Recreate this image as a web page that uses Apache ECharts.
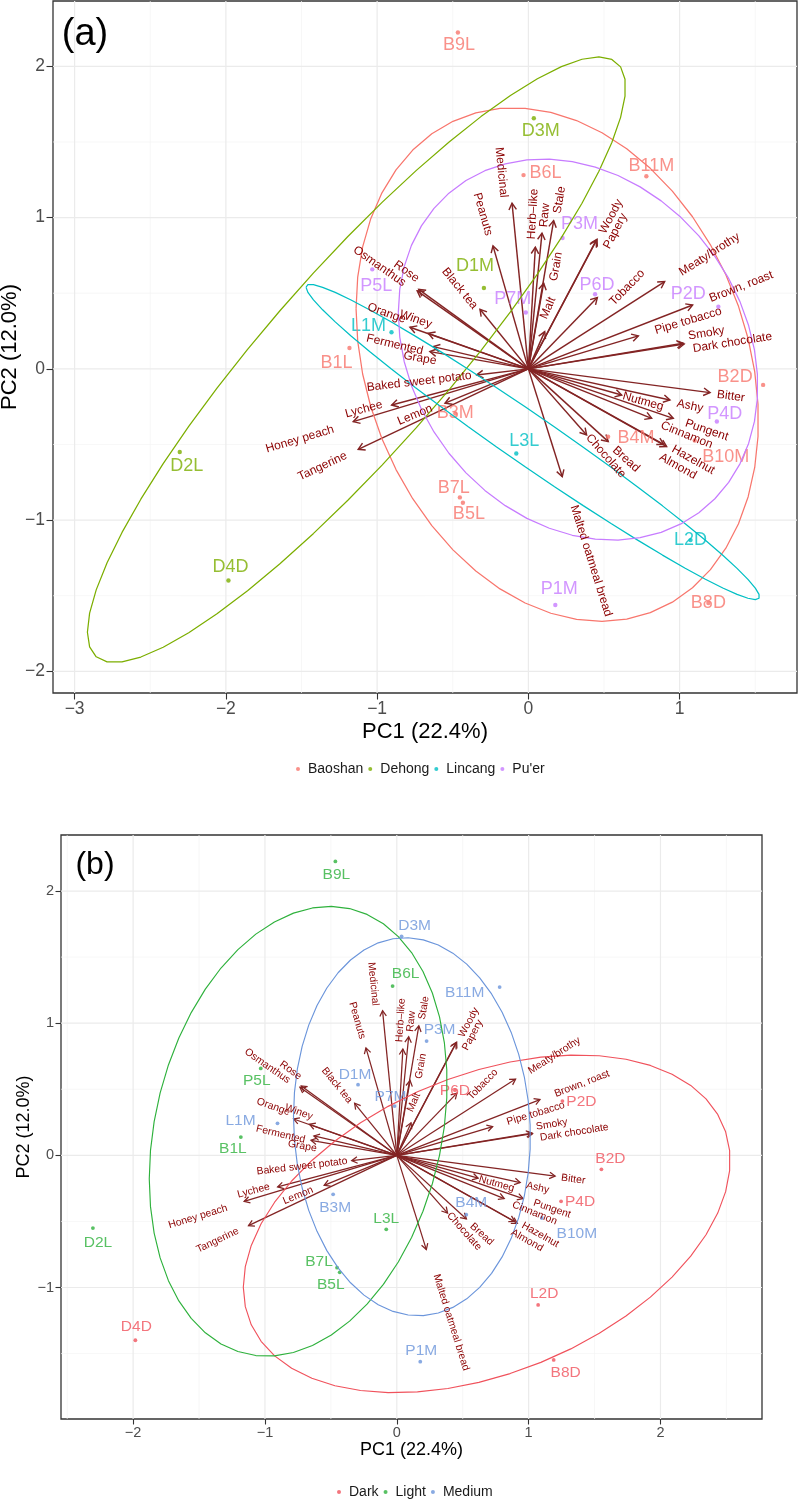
<!DOCTYPE html>
<html><head><meta charset="utf-8">
<script src="https://cdn.jsdelivr.net/npm/echarts@6/dist/echarts.min.js"></script>
<style>html,body{margin:0;padding:0;background:#fff;}#c{width:798px;height:1501px;}</style>
</head><body><div id="c"></div>
<script>
// ---------------- DATA ----------------
const samples = ['B1L','B2D','B3M','B4M','B5L','B6L','B7L','B8D','B9L','B10M','B11M','D1M','D2L','D3M','D4D','L1M','L2D','L3L','P1M','P2D','P3M','P4D','P5L','P6D','P7M'];
const pc1 = [-1.183, 1.552, -0.483, 0.527, -0.433, -0.032, -0.453, 1.190, -0.466, 1.100, 0.780, -0.294, -2.305, 0.036, -1.983, -0.905, 1.072, -0.080, 0.178, 1.256, 0.226, 1.246, -1.032, 0.441, -0.017];
const pc2 = [0.138, -0.106, -0.295, -0.449, -0.885, 1.281, -0.850, -1.548, 2.224, -0.474, 1.273, 0.535, -0.550, 1.657, -1.399, 0.242, -1.132, -0.560, -1.561, 0.411, 0.865, -0.348, 0.658, 0.493, 0.373];
const region = ['Baoshan','Baoshan','Baoshan','Baoshan','Baoshan','Baoshan','Baoshan','Baoshan','Baoshan','Baoshan','Baoshan','Dehong','Dehong','Dehong','Dehong','Lincang','Lincang','Lincang',"Pu'er","Pu'er","Pu'er","Pu'er","Pu'er","Pu'er","Pu'er"];
const roast = ['Light','Dark','Medium','Medium','Light','Light','Light','Dark','Light','Medium','Medium','Medium','Light','Medium','Dark','Medium','Dark','Light','Medium','Dark','Medium','Dark','Light','Dark','Medium'];
const regionLevels = ['Baoshan','Dehong','Lincang',"Pu'er"];
const roastLevels = ['Dark','Light','Medium'];

const vars = ['Medicinal','Peanuts','Herb\u2013like','Raw','Stale','Grain','Malt','Woody','Papery','Tobacco','Meaty/brothy','Brown, roast','Pipe tobacco','Smoky','Dark chocolate','Bitter','Nutmeg','Ashy','Pungent','Cinnamon','Hazelnut','Almond','Bread','Chocolate','Malted oatmeal bread','Lemon','Tangerine','Honey peach','Lychee','Baked sweet potato','Grape','Fermented','Orange','Winey','Black tea','Rose','Osmanthus'];
const load1 = [-0.108,-0.234,0.046,0.090,0.167,0.101,0.108,0.454,0.448,0.456,0.901,1.086,0.727,1.024,1.030,1.201,0.617,0.936,0.958,0.815,0.914,0.895,0.528,0.385,0.224,-0.551,-1.125,-1.158,-0.904,-0.342,-0.651,-0.629,-0.783,-0.662,-0.320,-0.725,-0.735];
const load2 = [1.095,0.813,0.804,0.897,0.980,0.566,0.246,0.857,0.850,0.471,0.577,0.422,0.218,0.169,0.164,-0.157,-0.173,-0.206,-0.327,-0.327,-0.514,-0.500,-0.481,-0.437,-0.713,-0.227,-0.532,-0.349,-0.239,-0.040,0.114,0.147,0.275,0.235,0.394,0.525,0.516];

const xTicksA = [-3,-2,-1,0,1];           const xTickLabelsA = ['\u22123','\u22122','\u22121','0','1'];
const yTicksA = [-2,-1,0,1,2];            const yTickLabelsA = ['\u22122','\u22121','0','1','2'];
const xMinorA = [-2.5,-1.5,-0.5,0.5,1.5]; const yMinorA = [-1.5,-0.5,0.5,1.5];
const xTicksB = [-2,-1,0,1,2];            const xTickLabelsB = ['\u22122','\u22121','0','1','2'];
const yTicksB = [-1,0,1,2];               const yTickLabelsB = ['\u22121','0','1','2'];
const xMinorB = [-2.5,-1.5,-0.5,0.5,1.5,2.5]; const yMinorB = [-1.5,-0.5,0.5,1.5];

// ---------------- LAYOUT / STYLE ----------------
const FONT = '"Liberation Sans", Arial, Helvetica, sans-serif';
const regionColors = ['#F8766D','#7CAE00','#00BFC4','#C77CFF'];
const roastColors = ['#F0525C','#2EB13C','#6B95DB'];
const ARROW = '#832424', VARCOL = '#8B0000';
// label offsets (px) of sample names in each panel
const labOffA = [[-13,15],[-28,-8],[0,0],[28,1],[6,11],[22,-2],[-6,-9],[0,0],[1,13],[31,16],[5,-10],[-9,-22],[7,14],[7,13],[2,-13],[-23,-6],[0,0],[8,-13],[4,-16],[-30,-13],[17,-14],[8,-7],[4,17],[2,-9],[-13,-13]];
const labOffB = [[-8,12],[9,-11],[2,13],[5,-12],[-9,12],[13,-12],[-18,-6],[12,13],[1,13],[35,16],[-35,6],[-3,-10],[5,15],[13,-11],[1,-14],[-37,-3],[6,-11],[0,-11],[1,-11],[19,1],[13,-11],[19,0],[-4,12],[0,1],[-4,-9]];
// nudges (px, panel a scale) of variable names from their default biplot position
const varNudge = [[-7,7],[-1,0],[-4.6,4.6],[1,0],[2.5,-0.5],[8.6,5],[-3.6,-8],[1,2],[6,16],[6.6,14],[1,1],[1.5,0],[0,0],[-4,-5.5],[-11,8],[0,1],[-9,-2],[0.5,1.7],[1.7,1],[-3,1.5],[-4.4,-4],[-12.5,7],[0,1.5],[-7.6,-9.3],[2.6,1],[-4.6,1.2],[0,0],[-2.5,2.3],[0,-3],[21,-2.5],[14.6,11],[4,8],[5,-4],[11,-5.6],[3,8],[4.7,-5.7],[0,2]];

const PANELS = [
  {left:53, top:1, width:744, height:692, xMin:-3.143, xMax:1.776, yMin:-2.143, yMax:2.432,
   xT:xTicksA, xL:xTickLabelsA, yT:yTicksA, yL:yTickLabelsA, xm:xMinorA, ym:yMinorA,
   tickFont:17.5, tickLen:6.5, xMargin:7, yMargin:8, ptSize:4.4, sampleFont:18, varFont:12,
   arrowLen:7.5, arrowW:1.45, ellW:1.25, nudge:1.0, offs:labOffA},
  {left:61, top:835, width:701, height:584, xMin:-2.547, xMax:2.770, yMin:-1.995, yMax:2.424,
   xT:xTicksB, xL:xTickLabelsB, yT:yTicksB, yL:yTickLabelsB, xm:xMinorB, ym:yMinorB,
   tickFont:14.5, tickLen:5.5, xMargin:6, yMargin:7, ptSize:3.8, sampleFont:15.5, varFont:10.4,
   arrowLen:6.5, arrowW:1.25, ellW:1.15, nudge:0.87, offs:labOffB}
];

const mctx = document.createElement('canvas').getContext('2d');
function textW(s, size){ mctx.font = size + 'px ' + FONT; return mctx.measureText(s).width; }

function ellipsePath(idx){
  const xs = idx.map(i=>pc1[i]), ys = idx.map(i=>pc2[i]); const n = xs.length;
  const mx = xs.reduce((a,b)=>a+b,0)/n, my = ys.reduce((a,b)=>a+b,0)/n;
  let sxx=0,sxy=0,syy=0;
  for(let k=0;k<n;k++){ sxx+=(xs[k]-mx)**2; syy+=(ys[k]-my)**2; sxy+=(xs[k]-mx)*(ys[k]-my); }
  sxx/=(n-1); syy/=(n-1); sxy/=(n-1);
  const r11=Math.sqrt(sxx), r12=sxy/r11, r22=Math.sqrt(Math.max(syy-r12*r12,0));
  const ed = Math.sqrt(-2*Math.log(1-0.68));
  const pts=[];
  for(let k=0;k<50;k++){ const th=-Math.PI+2*Math.PI*k/49; const c=Math.cos(th), s=Math.sin(th);
    pts.push([mx+ed*c*r11, my+ed*(c*r12+s*r22)]); }
  return pts;
}

const grids=[], xAxes=[], yAxes=[], series=[];
PANELS.forEach((P,pi)=>{
  grids.push({left:P.left, top:P.top, width:P.width, height:P.height, show:true, borderColor:'#333333', borderWidth:1.3, backgroundColor:'#ffffff'});
  xAxes.push({gridIndex:pi, type:'value', position:'bottom', min:P.xMin, max:P.xMax, axisLine:{show:false, onZero:false}, splitLine:{show:false},
    axisTick:{show:true, customValues:P.xT, length:P.tickLen, lineStyle:{color:'#333333', width:1.1}},
    axisLabel:{show:true, customValues:P.xT, margin:P.xMargin, color:'#4D4D4D', fontSize:P.tickFont, fontFamily:FONT,
      formatter:v=>{const i=P.xT.indexOf(v); return i>=0?P.xL[i]:'';}}});
  yAxes.push({gridIndex:pi, type:'value', position:'left', min:P.yMin, max:P.yMax, axisLine:{show:false, onZero:false}, splitLine:{show:false},
    axisTick:{show:true, customValues:P.yT, length:P.tickLen, lineStyle:{color:'#333333', width:1.1}},
    axisLabel:{show:true, customValues:P.yT, margin:P.yMargin, color:'#4D4D4D', fontSize:P.tickFont, fontFamily:FONT,
      formatter:v=>{const i=P.yT.indexOf(v); return i>=0?P.yL[i]:'';}}});

  // grid lines
  const gl=[];
  P.xm.forEach(v=>gl.push([v,0,0])); P.ym.forEach(v=>gl.push([v,1,0]));
  P.xT.forEach(v=>gl.push([v,0,1])); P.yT.forEach(v=>gl.push([v,1,1]));
  series.push({type:'custom', xAxisIndex:pi, yAxisIndex:pi, silent:true, z:0, data:gl,
    renderItem(params, api){
      const cs=params.coordSys; const v=api.value(0), d=api.value(1), mj=api.value(2);
      let shape;
      if(d===0){ const p=api.coord([v,0]); shape={x1:p[0],y1:cs.y,x2:p[0],y2:cs.y+cs.height}; }
      else { const p=api.coord([0,v]); shape={x1:cs.x,y1:p[1],x2:cs.x+cs.width,y2:p[1]}; }
      return {type:'line', shape, style:{stroke: mj?'#EBEBEB':'#F3F3F3', lineWidth: mj?1.2:0.7}};
    }});

  // arrows
  series.push({type:'custom', xAxisIndex:pi, yAxisIndex:pi, silent:true, z:1,
    data: vars.map((n,i)=>[load1[i],load2[i]]),
    renderItem(params, api){
      const t=api.coord([api.value(0),api.value(1)]), o=api.coord([0,0]);
      const ang=Math.atan2(t[1]-o[1], t[0]-o[0]); const L=P.arrowLen, a=Math.PI/6;
      const h1=[t[0]-L*Math.cos(ang-a), t[1]-L*Math.sin(ang-a)], h2=[t[0]-L*Math.cos(ang+a), t[1]-L*Math.sin(ang+a)];
      return {type:'group', children:[
        {type:'line', shape:{x1:o[0],y1:o[1],x2:t[0],y2:t[1]}, style:{stroke:ARROW, lineWidth:P.arrowW}},
        {type:'polyline', shape:{points:[h1,t,h2]}, style:{stroke:ARROW, lineWidth:P.arrowW, fill:null}}]};
    }});

  // points + ellipses
  const levels = pi===0?regionLevels:roastLevels, colors = pi===0?regionColors:roastColors, grp = pi===0?region:roast;
  levels.forEach((g,gi)=>{
    const idx = samples.map((s,i)=>i).filter(i=>grp[i]===g);
    series.push({type:'scatter', name:g, xAxisIndex:pi, yAxisIndex:pi, z:3, silent:true,
      symbol:'circle', symbolSize:P.ptSize, itemStyle:{color:colors[gi]},
      label:{show:true, position:'inside', formatter:'{b}', color:colors[gi], fontSize:P.sampleFont, fontFamily:FONT},
      labelLayout:function(prm){ const o=P.offs[idx[prm.dataIndex]]; return {dx:o[0], dy:o[1], hideOverlap:false}; },
      data: idx.map(i=>({name:samples[i], value:[pc1[i],pc2[i]]}))});
  });
  levels.forEach((g,gi)=>{
    const idx = samples.map((s,i)=>i).filter(i=>grp[i]===g);
    if(idx.length<3) return;
    series.push({type:'line', name:g, xAxisIndex:pi, yAxisIndex:pi, z:4, silent:true, showSymbol:false, symbol:'none',
      lineStyle:{color:colors[gi], width:P.ellW}, itemStyle:{color:colors[gi]}, data: ellipsePath(idx), animation:false});
  });

  // variable names
  series.push({type:'custom', xAxisIndex:pi, yAxisIndex:pi, silent:true, z:5,
    data: vars.map((n,i)=>[load1[i],load2[i]]),
    renderItem(params, api){
      const i=params.dataIndex; const x=api.value(0), y=api.value(1); const t=api.coord([x,y]);
      const ang=Math.atan(y/x); const hj = x>=0 ? -0.25 : 1.25;
      const w=textW(vars[i], P.varFont); const k=(0.5-hj)*w;
      const ux=Math.cos(ang), uy=-Math.sin(ang);
      return {type:'text', x:t[0]+k*ux+varNudge[i][0]*P.nudge, y:t[1]+k*uy+varNudge[i][1]*P.nudge, rotation:ang,
        style:{text:vars[i], x:0, y:0, align:'center', verticalAlign:'middle', textAlign:'center', textVerticalAlign:'middle',
          fill:VARCOL, font:P.varFont+'px '+FONT}};
    }});
});

function T(text,x,y,size,rot,color){
  return {type:'text', x, y, rotation:rot||0, silent:true,
    style:{text, x:0, y:0, font:size+'px '+FONT, fill:color||'#000', align:'center', verticalAlign:'middle', textAlign:'center', textVerticalAlign:'middle'}};
}

const option = {
  animation:false, backgroundColor:'#ffffff',
  grid:grids, xAxis:xAxes, yAxis:yAxes, series,
  legend:[
    {data:regionLevels, left:291, top:757, icon:'circle', itemWidth:10, itemHeight:4, itemGap:5, selectedMode:false,
     textStyle:{fontSize:14, color:'#1A1A1A', fontFamily:FONT}},
    {data:roastLevels, left:332, top:1480, icon:'circle', itemWidth:10, itemHeight:4, itemGap:5, selectedMode:false,
     textStyle:{fontSize:14, color:'#1A1A1A', fontFamily:FONT}}
  ],
  graphic:[
    T('(a)',85,35,38),
    T('(b)',95,865,32),
    T('PC1 (22.4%)',425,732,22),
    T('PC2 (12.0%)',10,347,22,Math.PI/2),
    T('PC1 (22.4%)',411.4,1450.5,18),
    T('PC2 (12.0%)',24,1127,18,Math.PI/2)
  ]
};
const chart = echarts.init(document.getElementById('c'));
chart.setOption(option);
</script></body></html>
